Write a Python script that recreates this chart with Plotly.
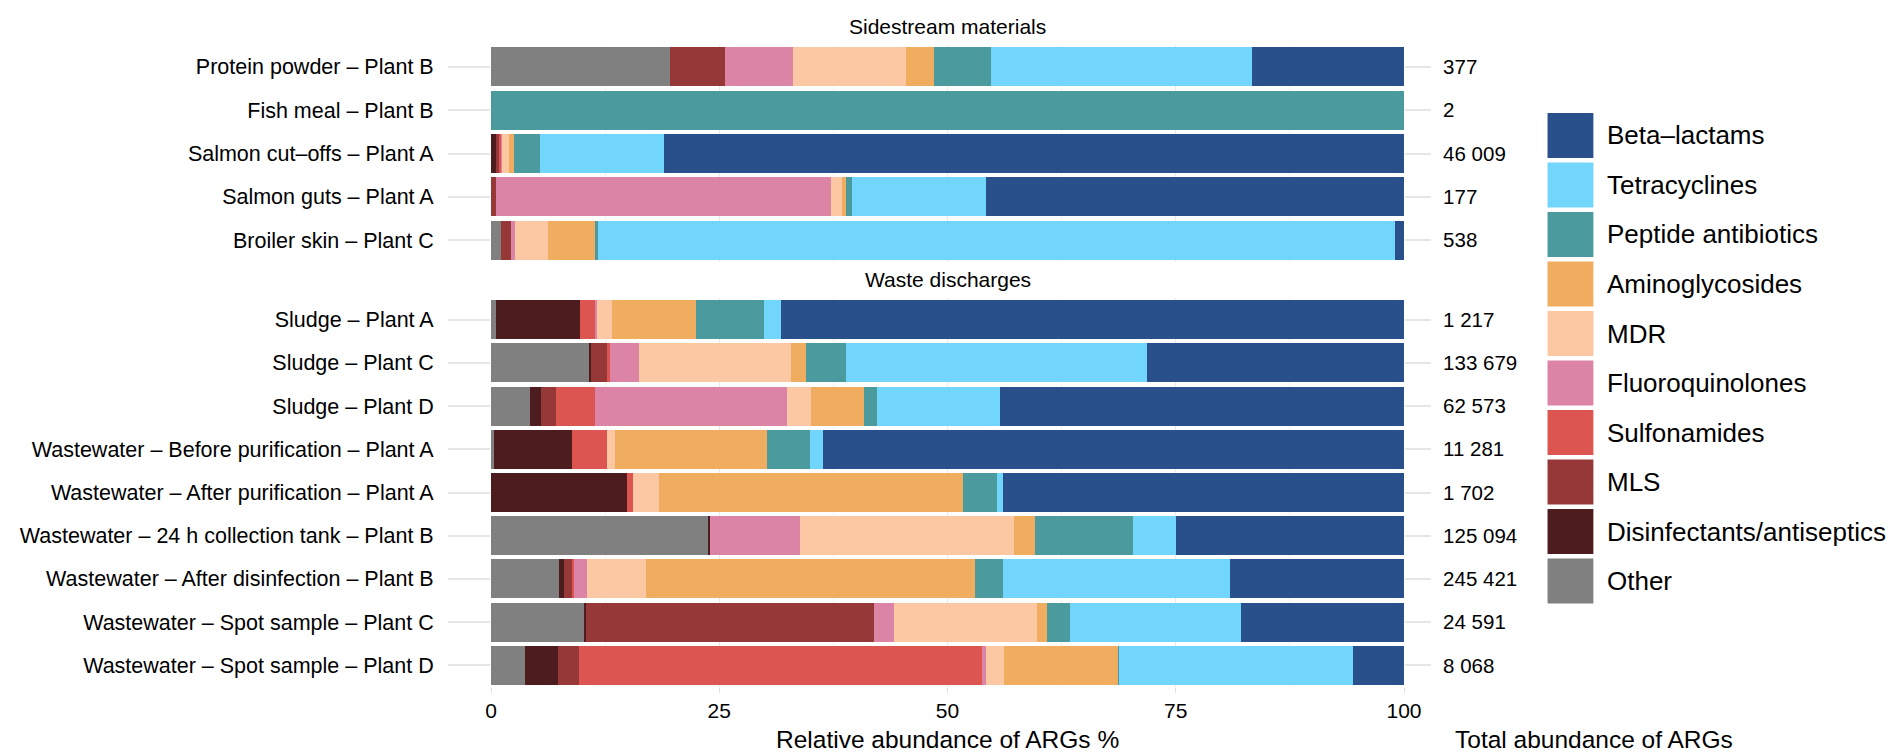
import plotly.graph_objects as go

# rows from top to bottom
samples = [
    "Protein powder – Plant B",
    "Fish meal – Plant B",
    "Salmon cut–offs – Plant A",
    "Salmon guts – Plant A",
    "Broiler skin – Plant C",
    "Sludge – Plant A",
    "Sludge – Plant C",
    "Sludge – Plant D",
    "Wastewater – Before purification – Plant A",
    "Wastewater – After purification – Plant A",
    "Wastewater – 24 h collection tank – Plant B",
    "Wastewater – After disinfection – Plant B",
    "Wastewater – Spot sample – Plant C",
    "Wastewater – Spot sample – Plant D",
]
groups = ["Sidestream materials"] * 5 + ["Waste discharges"] * 9
totals = ["377", "2", "46 009", "177", "538", "1 217", "133 679", "62 573",
          "11 281", "1 702", "125 094", "245 421", "24 591", "8 068"]

# relative abundance (%) per ARG class, same row order as samples
other = [19.6, 0, 0, 0, 1.1, 0.5, 10.8, 4.3, 0.3, 0, 23.8, 7.5, 10.2, 3.7]
disinfectants = [0, 0, 0.6, 0, 0, 9.2, 0.2, 1.2, 8.6, 14.9, 0.2, 0.5, 0.2, 3.6]
mls = [6.0, 0, 0.3, 0.55, 1.1, 0, 1.7, 1.6, 0, 0, 0, 0.9, 31.6, 2.3]
sulfonamides = [0, 0, 0.2, 0, 0, 1.7, 0.3, 4.3, 3.8, 0.7, 0, 0.2, 0, 44.2]
fluoroquinolones = [7.5, 0, 0.1, 36.7, 0.4, 0.2, 3.2, 21.0, 0, 0, 9.8, 1.4, 2.1, 0.4]
mdr = [12.4, 0, 0.8, 1.15, 3.6, 1.7, 16.7, 2.6, 0.9, 2.8, 23.5, 6.5, 15.7, 2.0]
aminoglycosides = [3.0, 0, 0.5, 0.5, 5.2, 9.1, 1.6, 5.9, 16.6, 33.3, 2.3, 36.0, 1.1, 12.5]
peptide = [6.3, 100, 2.9, 0.6, 0.3, 7.5, 4.4, 1.4, 4.7, 3.7, 10.7, 3.1, 2.5, 0.1]
tetracyclines = [28.5, 0, 13.6, 14.7, 87.3, 1.9, 33.0, 13.5, 1.5, 0.7, 4.7, 24.8, 18.8, 25.6]
beta_lactams = [16.7, 0, 81.0, 45.8, 1.0, 68.2, 28.1, 44.2, 63.6, 43.9, 25.0, 19.1, 17.8, 5.6]

# stacking order, left to right
classes = [
    ("Other", other, "#808080"),
    ("Disinfectants/antiseptics", disinfectants, "#4c1c1e"),
    ("MLS", mls, "#963838"),
    ("Sulfonamides", sulfonamides, "#dc5550"),
    ("Fluoroquinolones", fluoroquinolones, "#dc84a6"),
    ("MDR", mdr, "#fcc8a4"),
    ("Aminoglycosides", aminoglycosides, "#f0ac5f"),
    ("Peptide antibiotics", peptide, "#4b9a9e"),
    ("Tetracyclines", tetracyclines, "#72d5fb"),
    ("Beta–lactams", beta_lactams, "#2a508c"),
]

W, H = 1902, 752
ML, MR, MT, MB = 480, 506, 37, 73
PW = W - ML - MR
PH = H - MT - MB
FONT = "Liberation Sans, Arial, sans-serif"


def px_x(x):
    return (x - ML) / PW


def px_y(y):
    return (H - MB - y) / PH


panels = [
    ("Sidestream materials", "x", "y", "y3", [px_y(254), 1.0]),
    ("Waste discharges", "x2", "y2", "y4", [0.0, px_y(290)]),
]

fig = go.Figure()
for title, xa, ya, ya_r, dom in panels:
    idx = [i for i, g in enumerate(groups) if g == title]
    rows = [samples[i] for i in idx]
    for name, vals, color in classes:
        fig.add_trace(go.Bar(
            x=[vals[i] for i in idx], y=rows, orientation="h", name=name,
            marker=dict(color=color, line=dict(width=0)),
            xaxis=xa, yaxis=ya, showlegend=False,
        ))
    # invisible trace that carries the total abundance labels on the right
    fig.add_trace(go.Scatter(
        x=[0] * len(idx), y=[totals[i] for i in idx], mode="markers",
        marker=dict(opacity=0), hoverinfo="skip", showlegend=False,
        xaxis=xa, yaxis=ya_r,
    ))

grid = dict(range=[0, 100], dtick=25, showgrid=True, gridcolor="#e8e8e8", gridwidth=1,
            minor=dict(dtick=12.5, showgrid=True, gridcolor="#f3f3f3"),
            zeroline=False, showline=False, domain=[0, 1],
            tickfont=dict(size=21, color="black"))


def yax(dom, n, side="left", ticklen=42, standoff=10, size=21.5):
    return dict(domain=dom, type="category", range=[n - 0.5, -0.5], side=side,
                ticks="outside", ticklen=ticklen, tickwidth=2, tickcolor="#e6e6e6",
                ticklabelstandoff=standoff, showgrid=False, zeroline=False,
                tickfont=dict(size=size, color="black"))


n_top = groups.count("Sidestream materials")
n_bot = groups.count("Waste discharges")
fig.update_layout(
    width=W, height=H,
    margin=dict(l=ML, r=MR, t=MT, b=MB),
    barmode="stack", bargap=0.1,
    plot_bgcolor="white", paper_bgcolor="white",
    font=dict(family=FONT, color="black"),
    xaxis=dict(grid, anchor="y", showticklabels=False),
    xaxis2=dict(grid, anchor="y2", matches="x", ticks="outside", ticklen=5,
                tickcolor="#e0e0e0"),
    yaxis=dict(yax(panels[0][4], n_top), anchor="x"),
    yaxis2=dict(yax(panels[1][4], n_bot), anchor="x2"),
    yaxis3=dict(yax(panels[0][4], n_top, "right", 26, 8, 20.5), anchor="x", overlaying="y"),
    yaxis4=dict(yax(panels[1][4], n_bot, "right", 26, 8, 20.5), anchor="x2", overlaying="y2"),
)

# facet strip titles
for title, xa, ya, ya_r, dom in panels:
    fig.add_annotation(text=title, xref="paper", yref="paper", x=0.5, y=dom[1],
                       yanchor="middle", yshift=19, showarrow=False,
                       font=dict(size=21, color="black"))

# axis titles
fig.add_annotation(text="Relative abundance of ARGs %", xref="paper", yref="paper",
                   x=0.5, y=0, yanchor="middle", yshift=-52, showarrow=False,
                   borderpad=0, font=dict(size=24.5, color="black"))
fig.add_annotation(text="Total abundance of ARGs", xref="paper", yref="paper",
                   x=px_x(1446), xanchor="left", y=0, yanchor="middle", yshift=-52,
                   showarrow=False, borderpad=0, font=dict(size=24.5, color="black"))

# legend with large swatches, Beta-lactams on top
for k, (name, vals, color) in enumerate(reversed(classes)):
    top = 105 + 49.5 * k
    fig.add_shape(type="rect", xref="paper", yref="paper",
                  x0=px_x(1540), x1=px_x(1586), y0=px_y(top + 45), y1=px_y(top),
                  fillcolor=color, line=dict(width=0))
    fig.add_annotation(text=name, xref="paper", yref="paper", x=px_x(1598),
                       y=px_y(top + 22.5), xanchor="left", yanchor="middle",
                       showarrow=False, font=dict(size=26, color="black"))

fig.write_html("out.html")
